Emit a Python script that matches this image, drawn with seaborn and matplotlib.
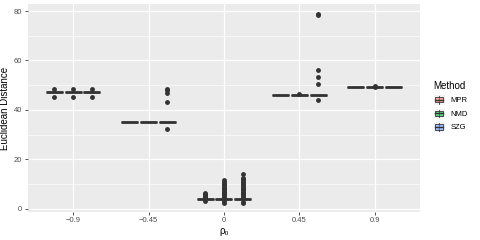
import numpy as np
import pandas as pd
import matplotlib
matplotlib.use("Agg")
import matplotlib.pyplot as plt
import matplotlib.patches as mpatches
from matplotlib.legend_handler import HandlerPatch
from matplotlib.lines import Line2D
from matplotlib.colors import to_rgba
from matplotlib.ticker import MultipleLocator
import seaborn as sns

# Data
rho_levels = ["-0.9", "-0.45", "0", "0.45", "0.9"]
rho_labels = ["\u22120.9", "\u22120.45", "0", "0.45", "0.9"]
methods = ["MPR", "NMD", "SZG"]
colors = ["#F8766D", "#00BA38", "#619CFF"]

# median of each box (all boxes are essentially flat), per rho level
medians = [47.2, 35.3, 3.9, 46.1, 49.3]
n_at_median = 60

# outliers per rho level, per method (MPR, NMD, SZG)
outliers_m09 = [[48.4, 45.4], [48.4, 45.4], [48.4, 45.4]]
outliers_m045 = [[], [], [48.6, 48.0, 46.8, 43.1, 32.3]]
outliers_0 = [
    [3.3, 4.5, 4.9, 5.3, 5.7, 6.1, 6.5],
    [2.6, 3.1, 4.5, 5.0, 5.5, 6.0, 6.5, 7.0, 7.5, 8.0, 8.5, 9.0, 9.5,
     10.0, 10.5, 11.0, 11.6],
    [2.4, 2.9, 4.5, 5.0, 5.5, 6.0, 6.5, 7.0, 7.5, 8.0, 8.5, 9.0, 9.5,
     10.0, 10.5, 11.0, 11.5, 12.0, 12.7, 14.2],
]
outliers_045 = [[], [46.3], [78.8, 78.2, 56.2, 53.3, 50.6, 44.1]]
outliers_09 = [[], [49.7, 49.1], []]
outliers = [outliers_m09, outliers_m045, outliers_0, outliers_045, outliers_09]

rows = []
for lvl, med, outs in zip(rho_levels, medians, outliers):
    for meth, extra in zip(methods, outs):
        for v in [med] * n_at_median + extra:
            rows.append({"rho": lvl, "Method": meth, "dist": v})
df = pd.DataFrame(rows)


class BoxKeyHandler(HandlerPatch):
    # draws a small boxplot glyph as legend key, ggplot style
    def create_artists(self, legend, orig_handle, xdescent, ydescent,
                       width, height, fontsize, trans):
        cx = width / 2 - xdescent
        bw = width * 0.72
        bh = height * 0.55
        y0 = -ydescent + (height - bh) / 2
        bg = mpatches.Rectangle((-xdescent, -ydescent), width, height,
                                facecolor="#F2F2F2", edgecolor="none", transform=trans)
        box = mpatches.Rectangle((cx - bw / 2, y0), bw, bh,
                                 facecolor=orig_handle.get_facecolor(),
                                 edgecolor="#333333", linewidth=0.6, transform=trans)
        wl = Line2D([cx, cx], [-ydescent + height * 0.08, -ydescent + height * 0.92],
                    color="#333333", linewidth=0.6, transform=trans)
        med = Line2D([cx - bw / 2, cx + bw / 2], [y0 + bh / 2, y0 + bh / 2],
                     color="#333333", linewidth=1.0, transform=trans)
        return [bg, wl, box, med]


plt.rcParams['font.family'] = ['Liberation Sans', 'DejaVu Sans']

fig = plt.figure(figsize=(4.8, 2.4), dpi=100)
ax = fig.add_axes([0.058, 0.117, 0.817, 0.866])
ax.set_facecolor("#EBEBEB")

sns.boxplot(data=df, x="rho", y="dist", hue="Method", order=rho_levels,
            hue_order=methods, palette=colors, width=0.75, gap=0.1,
            linecolor="#333333", linewidth=0.8, legend=False, ax=ax,
            medianprops=dict(linewidth=2.0, color="#333333"),
            flierprops=dict(marker="o", markersize=3.5, markerfacecolor="#333333",
                            markeredgecolor="#333333", markeredgewidth=0))
for patch in ax.patches:
    fc = patch.get_facecolor()
    patch.set_facecolor((fc[0], fc[1], fc[2], 0.6))

ax.set_xlim(-0.6, 4.6)
ax.set_ylim(-1.2, 82.8)
ax.yaxis.set_major_locator(MultipleLocator(20))
ax.yaxis.set_minor_locator(MultipleLocator(10))
ax.grid(which="major", color="white", linewidth=0.9)
ax.grid(which="minor", axis="y", color="white", linewidth=0.45)
ax.set_axisbelow(True)
for s in ax.spines.values():
    s.set_visible(False)
ax.tick_params(which="major", length=2.5, width=0.6, color="#333333",
               labelsize=5.5, labelcolor="#4D4D4D", pad=1.5)
ax.tick_params(which="minor", length=0)
ax.set_xticks(range(len(rho_levels)))
ax.set_xticklabels(rho_labels)

ax.set_xlabel("ρ₀", fontsize=7, labelpad=1)
ax.set_ylabel("Euclidean Distance", fontsize=7, labelpad=3)

handles = [mpatches.Patch(facecolor=to_rgba(c, 0.6), label=m)
           for m, c in zip(methods, colors)]
leg = fig.legend(handles=handles, title="Method", loc="upper left",
                 bbox_to_anchor=(0.897, 0.675), frameon=False, fontsize=5.5,
                 title_fontsize=7, handlelength=1.5, handleheight=1.5,
                 labelspacing=0.55, handletextpad=0.7, borderaxespad=0,
                 handler_map={mpatches.Patch: BoxKeyHandler()})
leg._legend_box.align = "left"

fig.savefig("out.png", dpi=100)
